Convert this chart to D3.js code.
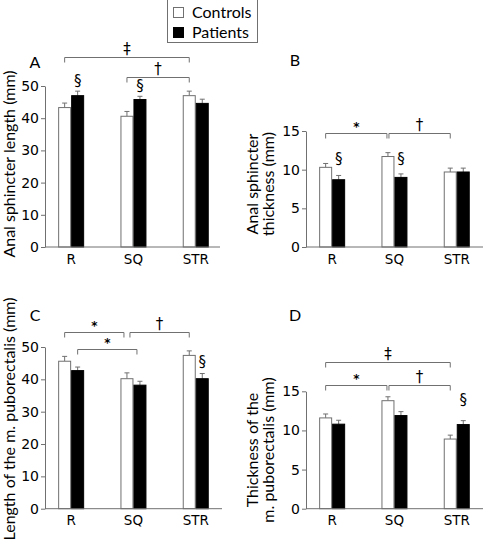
<!DOCTYPE html>
<html><head><meta charset="utf-8">
<script src="https://cdn.jsdelivr.net/npm/d3@7"></script>
<style>body{margin:0;background:#fff}svg{display:block}</style>
</head><body>
<svg id="chart" width="484" height="544"></svg>
<script>
// ---------- data ----------
const categories = ["R", "SQ", "STR"];
const seriesNames = ["Controls", "Patients"];

const sphLenControls = [43.3, 40.6, 47.0];
const sphLenControlsErr = [1.4, 1.5, 1.4];
const sphLenPatients = [47.0, 45.8, 44.6];
const sphLenPatientsErr = [1.4, 1.0, 1.3];

const sphThkControls = [10.3, 11.7, 9.7];
const sphThkControlsErr = [0.5, 0.5, 0.5];
const sphThkPatients = [8.7, 9.0, 9.7];
const sphThkPatientsErr = [0.55, 0.45, 0.5];

const prLenControls = [45.6, 40.2, 47.4];
const prLenControlsErr = [1.5, 1.8, 1.4];
const prLenPatients = [42.7, 38.2, 40.2];
const prLenPatientsErr = [1.1, 1.2, 1.6];

const prThkControls = [11.6, 13.8, 8.9];
const prThkControlsErr = [0.5, 0.5, 0.5];
const prThkPatients = [10.8, 11.9, 10.75];
const prThkPatientsErr = [0.5, 0.5, 0.5];

const ticksLength = [0, 10, 20, 30, 40, 50];
const ticksThickness = [0, 5, 10, 15];

// brackets: [fromCategory, fromSeries], [toCategory, toSeries], level (data units), label
const bracketsA = [
  {from: ["R", 0], to: ["STR", 0], level: 58.9, label: "\u2021"},
  {from: ["SQ", 0], to: ["STR", 0], level: 52.8, label: "\u2020"}
];
const bracketsB = [
  {from: ["R", 0], to: ["SQ", 0], level: 14.75, label: "*"},
  {from: ["SQ", 0], to: ["STR", 0], level: 14.75, label: "\u2020"}
];
const bracketsC = [
  {from: ["R", 0], to: ["SQ", 0], level: 54.6, label: "*"},
  {from: ["SQ", 0], to: ["STR", 0], level: 54.6, label: "\u2020"},
  {from: ["R", 1], to: ["SQ", 1], level: 49.4, label: "*"}
];
const bracketsD = [
  {from: ["R", 0], to: ["STR", 0], level: 18.74, label: "\u2021"},
  {from: ["R", 0], to: ["SQ", 0], level: 15.84, label: "*"},
  {from: ["SQ", 0], to: ["STR", 0], level: 15.84, label: "\u2020"}
];
// section marks: category, series, height (data units)
const marksA = [{cat: "R", s: 1, y: 51.6}, {cat: "SQ", s: 1, y: 50.0}];
const marksB = [{cat: "R", s: 1, y: 11.4}, {cat: "SQ", s: 1, y: 11.4}];
const marksC = [{cat: "STR", s: 1, y: 45.4}];
const marksD = [{cat: "STR", s: 1, y: 13.9}];

// ---------- drawing ----------
const FONT = "Lato, 'Open Sans', sans-serif";
const SYMFONT = "'DejaVu Sans', sans-serif";
const GREY = "#707070";
const svg = d3.select("#chart");

const panels = [
  {letter: "A", letterX: 35, letterY: 62, axisX: 45, right: 220, y0: 247, yTop: 86, max: 50,
   ticks: ticksLength, ctrl: sphLenControls, ctrlErr: sphLenControlsErr, pat: sphLenPatients, patErr: sphLenPatientsErr,
   label: ["Anal sphincter length (mm)"], labelX: 15, labelY: 164, brackets: bracketsA, marks: marksA, gap: 0},
  {letter: "B", letterX: 295, letterY: 60, axisX: 306, right: 483, y0: 247, yTop: 131, max: 15,
   ticks: ticksThickness, ctrl: sphThkControls, ctrlErr: sphThkControlsErr, pat: sphThkPatients, patErr: sphThkPatientsErr,
   label: ["Anal sphincter", "thickness (mm)"], labelX: 266, labelY: 184, brackets: bracketsB, marks: marksB, gap: 1},
  {letter: "C", letterX: 35, letterY: 315, axisX: 45, right: 222, y0: 508.7, yTop: 347, max: 50,
   ticks: ticksLength, ctrl: prLenControls, ctrlErr: prLenControlsErr, pat: prLenPatients, patErr: prLenPatientsErr,
   label: ["Length of the m. puborectalis (mm)"], labelX: 15, labelY: 419, brackets: bracketsC, marks: marksC, gap: 3},
  {letter: "D", letterX: 295, letterY: 315, axisX: 306, right: 483, y0: 508.7, yTop: 391.3, max: 15,
   ticks: ticksThickness, ctrl: prThkControls, ctrlErr: prThkControlsErr, pat: prThkPatients, patErr: prThkPatientsErr,
   label: ["Thickness of the", "m. puborectalis (mm)"], labelX: 266, labelY: 450, brackets: bracketsD, marks: marksD, gap: 1}
];

const BAR_W = 13;

panels.forEach(p => {
  const g = svg.append("g");
  const y = d3.scaleLinear().domain([0, p.max]).range([p.y0, p.yTop]);
  const x = d3.scaleBand().domain(categories).range([p.axisX - 5, p.axisX - 5 + 62.3 * 3]).paddingInner(0).paddingOuter(0);
  const groupC = c => x(c) + x.bandwidth() / 2;
  const barCenter = (c, s) => groupC(c) + (s === 0 ? -BAR_W / 2 : BAR_W / 2);

  // bars
  const series = [
    {vals: p.ctrl, errs: p.ctrlErr, fill: "#fff", s: 0},
    {vals: p.pat, errs: p.patErr, fill: "#000", s: 1}
  ];
  series.forEach(sr => {
    categories.forEach((c, i) => {
      const cx = barCenter(c, sr.s);
      const top = y(sr.vals[i]);
      const et = y(sr.vals[i] + sr.errs[i]);
      g.append("line").attr("x1", cx).attr("x2", cx).attr("y1", top).attr("y2", et)
        .attr("stroke", GREY).attr("stroke-width", 1);
      g.append("line").attr("x1", cx - 2.5).attr("x2", cx + 2.5).attr("y1", et).attr("y2", et)
        .attr("stroke", GREY).attr("stroke-width", 1);
      g.append("rect").attr("x", cx - BAR_W / 2 + 0.5).attr("y", top)
        .attr("width", BAR_W - 1).attr("height", y(0) - top)
        .attr("fill", sr.fill).attr("stroke", sr.s === 0 ? GREY : "#000").attr("stroke-width", 1);
    });
  });

  // y axis
  const yAxis = d3.axisLeft(y).tickValues(p.ticks).tickSize(4).tickPadding(2).tickSizeOuter(0);
  const ya = g.append("g").attr("transform", `translate(${p.axisX},0)`).call(yAxis);
  ya.select(".domain").attr("stroke", GREY);
  ya.selectAll(".tick line").attr("stroke", GREY);
  ya.selectAll(".tick text").attr("font-family", SYMFONT).attr("font-size", 14).attr("fill", "#000");

  // x axis
  const xa = g.append("g").attr("transform", `translate(0,${p.y0})`)
    .call(d3.axisBottom(x).tickSize(0).tickPadding(7));
  xa.select(".domain").remove();
  xa.selectAll(".tick text").attr("font-family", SYMFONT).attr("font-size", 13.5).attr("fill", "#000");
  g.append("line").attr("x1", p.axisX).attr("x2", p.right).attr("y1", p.y0).attr("y2", p.y0)
    .attr("stroke", GREY).attr("stroke-width", 1);

  // y label
  const lab = g.append("text").attr("transform", `translate(${p.labelX},${p.labelY}) rotate(-90)`)
    .attr("text-anchor", "middle").attr("font-family", FONT).attr("font-size", 16).attr("fill", "#000");
  if (p.label.length === 1) {
    lab.append("tspan").attr("x", 0).attr("y", 0).text(p.label[0]);
  } else {
    lab.append("tspan").attr("x", 0).attr("y", -8).text(p.label[0]);
    lab.append("tspan").attr("x", 0).attr("y", 8).text(p.label[1]);
  }

  // panel letter
  g.append("text").attr("x", p.letterX).attr("y", p.letterY).attr("dy", "0.35em")
    .attr("text-anchor", "middle").attr("font-family", FONT).attr("font-size", 16).text(p.letter);

  // brackets
  p.brackets.forEach(b => {
    const x1 = barCenter(b.from[0], b.from[1]);
    const x2 = barCenter(b.to[0], b.to[1]) - (b.to[0] === "SQ" ? p.gap : 0);
    const xs = b.from[0] === "SQ" ? x1 + p.gap : x1;
    const yy = Math.round(y(b.level)) + 0.5;
    g.append("path").attr("d", `M${xs},${yy + 5}V${yy}H${x2}V${yy + 5}`)
      .attr("fill", "none").attr("stroke", GREY).attr("stroke-width", 1);
    const isStar = b.label === "*";
    g.append("text").attr("x", (xs + x2) / 2).attr("y", isStar ? yy - 2.5 : yy - 3.5)
      .attr("text-anchor", "middle").attr("font-family", SYMFONT)
      .attr("font-weight", isStar ? "bold" : "normal")
      .attr("font-size", isStar ? 12 : 15).text(b.label);
  });

  // section marks
  p.marks.forEach(m => {
    g.append("text").attr("x", barCenter(m.cat, m.s)).attr("y", y(m.y)).attr("dy", "0.33em")
      .attr("text-anchor", "middle").attr("font-family", SYMFONT).attr("font-size", 15).text("\u00a7");
  });
});

// legend
const lg = svg.append("g");
lg.append("rect").attr("x", 167.5).attr("y", -0.5).attr("width", 90).attr("height", 43)
  .attr("fill", "#fff").attr("stroke", GREY);
const legFills = ["#fff", "#000"];
seriesNames.forEach((n, i) => {
  lg.append("rect").attr("x", 173.5).attr("y", 7.5 + i * 20).attr("width", 10).attr("height", 10)
    .attr("fill", legFills[i]).attr("stroke", i === 0 ? GREY : "#000");
  lg.append("text").attr("x", 192).attr("y", 12.5 + i * 20).attr("dy", "0.35em")
    .attr("font-family", FONT).attr("font-size", 16).text(n);
});
</script>
</body></html>
